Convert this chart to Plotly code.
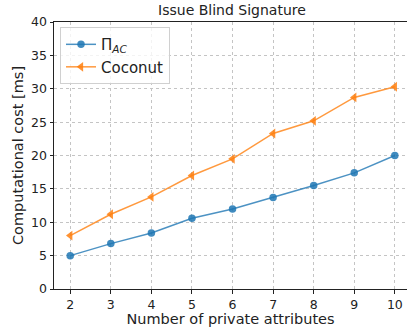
import plotly.graph_objects as go

attributes = [2, 3, 4, 5, 6, 7, 8, 9, 10]
pi_ac = [5.0, 6.8, 8.4, 10.6, 12.0, 13.7, 15.5, 17.4, 20.0]
coconut = [8.0, 11.2, 13.8, 17.0, 19.5, 23.3, 25.2, 28.7, 30.3]
y_ticks = [0, 5, 10, 15, 20, 25, 30, 35, 40]

font = "DejaVu Sans"
fig = go.Figure()
fig.add_trace(go.Scatter(
    x=attributes, y=pi_ac, mode="lines+markers", name="Π<sub><i>AC</i></sub>",
    line=dict(color="rgba(31,119,180,0.8)", width=1.5),
    marker=dict(symbol="circle", size=7.5, color="rgba(31,119,180,0.85)"),
))
fig.add_trace(go.Scatter(
    x=attributes, y=coconut, mode="lines+markers", name="Coconut",
    line=dict(color="rgba(255,127,14,0.8)", width=1.5),
    marker=dict(symbol="triangle-left", size=8.5, color="rgba(255,127,14,0.85)"),
))

axis_common = dict(
    showline=True, linecolor="#222", linewidth=1, automargin=False,
    ticks="outside", ticklen=3.5, tickcolor="#222", tickwidth=1,
    showgrid=True, gridcolor="#c4c4c4", gridwidth=0.8, griddash="dot",
    zeroline=False, tickfont=dict(family=font, size=12.5, color="#222"),
)
fig.update_xaxes(
    range=[1.6, 10.3], tickvals=attributes, mirror=True,
    title=dict(text="Number of private attributes", font=dict(family=font, size=14.5, color="#222"), standoff=2),
    **axis_common,
)
fig.update_yaxes(
    range=[0, 40], tickvals=y_ticks,
    title=dict(text="Computational cost [ms]", font=dict(family=font, size=14.5, color="#222"), standoff=4),
    **axis_common,
)
fig.update_layout(
    width=407, height=333,
    margin=dict(l=54, r=0, t=22, b=44),
    paper_bgcolor="white", plot_bgcolor="white",
    title=dict(text="Issue Blind Signature", x=0.57, xanchor="center", y=0.985, yanchor="top",
               font=dict(family=font, size=14, color="#222"), automargin=False),
    legend=dict(x=0.017, y=0.981, xanchor="left", yanchor="top",
                bgcolor="rgba(255,255,255,0.8)", bordercolor="#d0d0d0", borderwidth=1,
                font=dict(family=font, size=15, color="#222")),
    showlegend=True,
)
fig.write_html("out.html", config={"displayModeBar": False},
               post_script="document.body.style.margin='0';document.body.style.overflow='hidden';")
